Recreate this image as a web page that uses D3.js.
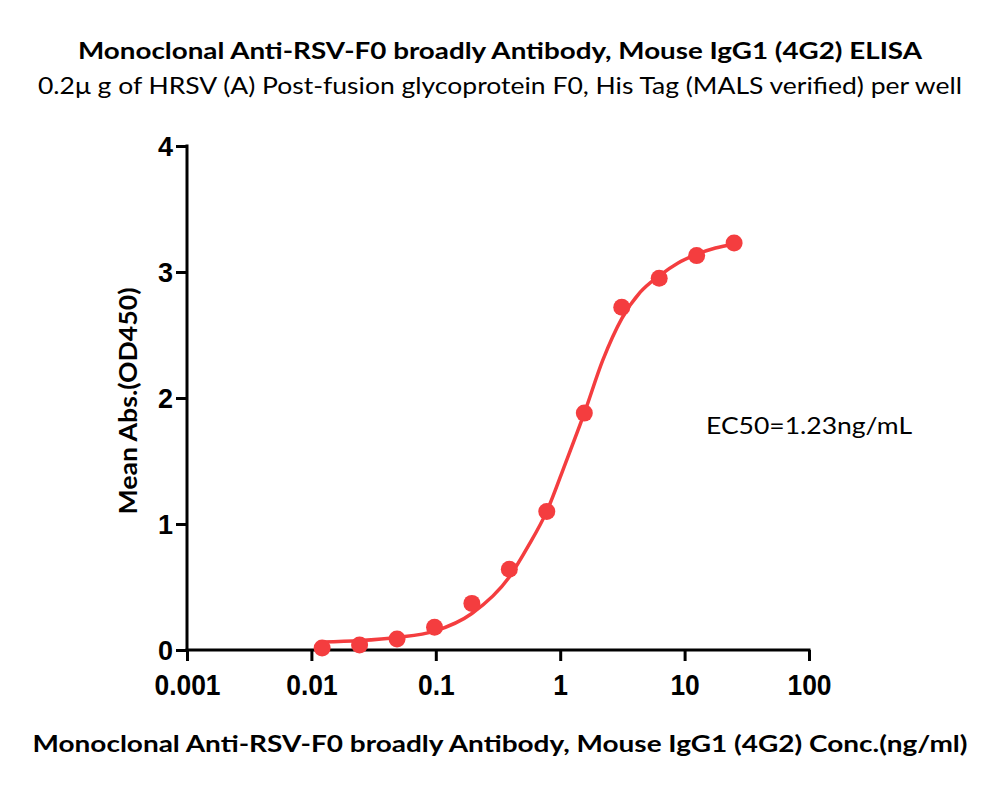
<!DOCTYPE html>
<html><head><meta charset="utf-8">
<script src="https://cdn.jsdelivr.net/npm/d3@7/dist/d3.min.js"></script>
<style>body{margin:0;background:#fff}</style>
</head><body>
<svg id="c" width="1000" height="788"></svg>
<script>
const titleText = "Monoclonal Anti-RSV-F0 broadly Antibody, Mouse IgG1 (4G2) ELISA";
const subtitleText = "0.2\u03bc g of HRSV (A) Post-fusion glycoprotein F0, His Tag (MALS verified) per well";
const xTitle = "Monoclonal Anti-RSV-F0 broadly Antibody, Mouse IgG1 (4G2) Conc.(ng/ml)";
const yTitle = "Mean Abs.(OD450)";
const ec50Label = "EC50=1.23ng/mL";

const conc = [0.0122, 0.0244, 0.0488, 0.0977, 0.195, 0.39, 0.78, 1.5625, 3.125, 6.25, 12.5, 25];
const od   = [0.016, 0.04, 0.087, 0.18, 0.37, 0.64, 1.10, 1.88, 2.72, 2.95, 3.13, 3.23];

const fitX = [0.0122, 0.0244, 0.0488, 0.0977, 0.195, 0.39, 0.55, 0.78, 1.1, 1.5625, 2.2, 3.125, 4.4, 6.25, 8.8, 12.5, 17.7, 25];
const fitY = [0.063, 0.075, 0.10, 0.15, 0.29, 0.58, 0.82, 1.10, 1.48, 1.88, 2.30, 2.63, 2.84, 2.97, 3.07, 3.14, 3.19, 3.22];

const xTicks = [0.001, 0.01, 0.1, 1, 10, 100];
const xTickLabels = ["0.001", "0.01", "0.1", "1", "10", "100"];
const yTicks = [0, 1, 2, 3, 4];

const svg = d3.select("#c");
const red = "#f43d3f";

const x = d3.scaleLog().domain([0.001, 100]).range([187, 809]);
const y = d3.scaleLinear().domain([0, 4]).range([650, 146]);

// titles
svg.append("text").attr("x", 500).attr("y", 59).attr("text-anchor", "middle")
  .attr("font-family", "Lato, 'Open Sans', sans-serif").attr("font-weight", "bold").attr("font-size", 23)
  .attr("textLength", 844).attr("lengthAdjust", "spacingAndGlyphs").text(titleText);
svg.append("text").attr("x", 500).attr("y", 94).attr("text-anchor", "middle")
  .attr("font-family", "Lato, 'Open Sans', sans-serif").attr("font-size", 23)
  .attr("textLength", 924).attr("lengthAdjust", "spacingAndGlyphs").text(subtitleText);

// axes
const xAxis = d3.axisBottom(x).tickValues(xTicks).tickFormat((d, i) => xTickLabels[i]).tickSize(11).tickSizeOuter(0);
const gx = svg.append("g").attr("transform", "translate(0,650)").call(xAxis);
const yAxis = d3.axisLeft(y).tickValues(yTicks).tickFormat(d3.format("d")).tickSize(11).tickSizeOuter(0);
const gy = svg.append("g").attr("transform", "translate(187,0)").call(yAxis);

[gx, gy].forEach(g => {
  g.select(".domain").attr("stroke", "#000").attr("stroke-width", 3);
  g.selectAll(".tick line").attr("stroke", "#000").attr("stroke-width", 3);
  g.selectAll(".tick text").attr("fill", "#000")
    .attr("font-family", "'Liberation Sans', Arial, sans-serif").attr("font-weight", "bold").attr("font-size", 27);
});
gx.selectAll(".tick text").attr("font-size", 30).attr("dy", null).attr("y", 45)
  .each(function() { const w = this.getComputedTextLength(); d3.select(this).attr("textLength", w * 0.88).attr("lengthAdjust", "spacingAndGlyphs"); });
gy.selectAll(".tick text").attr("x", -14).attr("dy", "0.36em");
gx.select(".domain").attr("d", "M185.5,0H810.5");
gy.select(".domain").attr("d", "M0,144.5V650");

// axis titles
svg.append("text").attr("transform", "translate(137,401) rotate(-90)").attr("text-anchor", "middle")
  .attr("font-family", "Lato, 'Open Sans', sans-serif").attr("font-weight", "bold").attr("font-size", 25)
  .attr("textLength", 227).attr("lengthAdjust", "spacingAndGlyphs")
  .text(yTitle);
svg.append("text").attr("x", 500).attr("y", 752).attr("text-anchor", "middle")
  .attr("font-family", "Lato, 'Open Sans', sans-serif").attr("font-weight", "bold").attr("font-size", 23)
  .attr("textLength", 935).attr("lengthAdjust", "spacingAndGlyphs").text(xTitle);

// fit curve
const line = d3.line().x(d => x(d[0])).y(d => y(d[1])).curve(d3.curveMonotoneX);
svg.append("path").datum(fitX.map((v, i) => [v, fitY[i]]))
  .attr("d", line).attr("fill", "none").attr("stroke", red).attr("stroke-width", 3.5);

// points
svg.append("g").selectAll("circle").data(conc.map((v, i) => [v, od[i]])).join("circle")
  .attr("cx", d => x(d[0])).attr("cy", d => y(d[1])).attr("r", 8.5).attr("fill", red);

// EC50 label
svg.append("text").attr("x", 706).attr("y", 434)
  .attr("font-family", "Lato, 'Open Sans', sans-serif").attr("font-size", 23)
  .attr("textLength", 206).attr("lengthAdjust", "spacingAndGlyphs").text(ec50Label);
</script>
</body></html>
